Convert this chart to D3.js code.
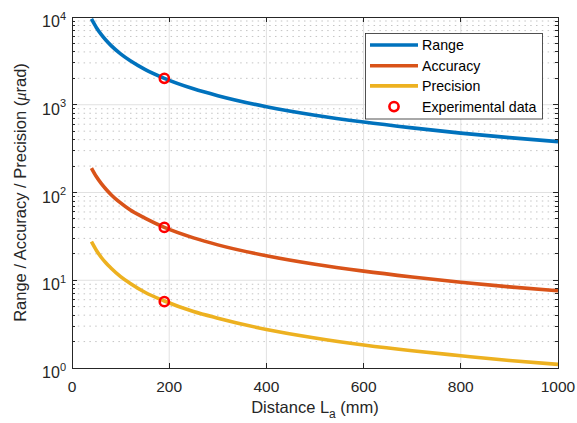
<!DOCTYPE html>
<html>
<head>
<meta charset="utf-8">
<script src="https://cdn.jsdelivr.net/npm/d3@7"></script>
<style>
  html, body { margin: 0; padding: 0; background: #fff; }
  svg { display: block; font-family: "Liberation Sans", Arial, Helvetica, sans-serif; }
</style>
</head>
<body>
<div id="chart"></div>
<script>
// Distance L_a (mm) at which each curve is sampled
const distance = [40, 50, 60, 70, 80, 100, 120, 150, 190, 250, 300, 400, 500, 600, 700, 800, 900, 1000];
// Angular quantities in µrad
const rangeVals     = [9500, 7600, 6330, 5430, 4750, 3800, 3170, 2530, 2000, 1520, 1270, 950, 760, 635, 545, 475, 422, 380];
const accuracyVals  = [190, 152, 127, 109, 95, 76, 63, 51, 40, 30.4, 25.3, 19, 15.2, 12.7, 10.9, 9.5, 8.4, 7.6];
const precisionVals = [27.5, 22, 18.3, 15.7, 13.8, 11, 9.2, 7.3, 5.8, 4.4, 3.7, 2.75, 2.2, 1.83, 1.57, 1.38, 1.22, 1.1];
// Measured points
const expDistance = [190, 190, 190];
const expValues   = [2000, 40, 5.7];

const seriesNames  = ["Range", "Accuracy", "Precision"];
const seriesColors = ["#0072BD", "#D95319", "#EDB120"];
const xTicks = [0, 200, 400, 600, 800, 1000];
const yExponents = [0, 1, 2, 3, 4];

const W = 577, H = 423;
const plot = { left: 72, right: 558, top: 17, bottom: 368 };
const axisColor = "#262626";

const svg = d3.select("#chart").append("svg").attr("width", W).attr("height", H);

const x = d3.scaleLinear().domain([0, 1000]).range([plot.left, plot.right]);
const y = d3.scaleLog().domain([1, 1e4]).range([plot.bottom, plot.top]);

const g = svg.append("g");

// minor grid (dotted) at 2..9 of every decade
const minorVals = [];
yExponents.slice(0, -1).forEach(e => { for (let k = 2; k <= 9; k++) minorVals.push(k * Math.pow(10, e)); });
g.selectAll(".minor").data(minorVals).enter().append("line")
  .attr("x1", plot.left).attr("x2", plot.right)
  .attr("y1", d => y(d)).attr("y2", d => y(d))
  .attr("stroke", "#c4c4c4").attr("stroke-width", 1).attr("stroke-dasharray", "1.5,4.3");

// major grid
g.selectAll(".gx").data(xTicks.slice(1, -1)).enter().append("line")
  .attr("x1", d => x(d)).attr("x2", d => x(d))
  .attr("y1", plot.top).attr("y2", plot.bottom)
  .attr("stroke", "#e1e1e1").attr("stroke-width", 1);
g.selectAll(".gy").data(yExponents.slice(1, -1)).enter().append("line")
  .attr("x1", plot.left).attr("x2", plot.right)
  .attr("y1", d => y(Math.pow(10, d))).attr("y2", d => y(Math.pow(10, d)))
  .attr("stroke", "#e1e1e1").attr("stroke-width", 1);

// curves
const line = d3.line().x(d => x(d[0])).y(d => y(d[1])).curve(d3.curveMonotoneX);
[rangeVals, accuracyVals, precisionVals].forEach((vals, i) => {
  g.append("path")
    .datum(distance.map((d, j) => [d, vals[j]]))
    .attr("d", line)
    .attr("fill", "none")
    .attr("stroke", seriesColors[i])
    .attr("stroke-width", 3.6)
    .attr("stroke-linejoin", "round");
});

// experimental markers
g.selectAll(".exp").data(expValues).enter().append("circle")
  .attr("cx", (d, i) => x(expDistance[i])).attr("cy", d => y(d))
  .attr("r", 4.6).attr("fill", "none").attr("stroke", "#FF0000").attr("stroke-width", 2.6);

// axes box and ticks (inward, on all four sides)
const ax = svg.append("g").attr("stroke", axisColor).attr("stroke-width", 1).attr("shape-rendering", "crispEdges");
ax.append("rect").attr("x", plot.left).attr("y", plot.top)
  .attr("width", plot.right - plot.left).attr("height", plot.bottom - plot.top).attr("fill", "none");
xTicks.forEach(t => {
  ax.append("line").attr("x1", x(t)).attr("x2", x(t)).attr("y1", plot.bottom).attr("y2", plot.bottom - 5);
  ax.append("line").attr("x1", x(t)).attr("x2", x(t)).attr("y1", plot.top).attr("y2", plot.top + 5);
});
yExponents.forEach(e => {
  const yy = y(Math.pow(10, e));
  ax.append("line").attr("x1", plot.left).attr("x2", plot.left + 5).attr("y1", yy).attr("y2", yy);
  ax.append("line").attr("x1", plot.right).attr("x2", plot.right - 5).attr("y1", yy).attr("y2", yy);
});
minorVals.forEach(v => {
  const yy = y(v);
  ax.append("line").attr("x1", plot.left).attr("x2", plot.left + 3).attr("y1", yy).attr("y2", yy);
  ax.append("line").attr("x1", plot.right).attr("x2", plot.right - 3).attr("y1", yy).attr("y2", yy);
});

// x tick labels
svg.selectAll(".xl").data(xTicks).enter().append("text")
  .attr("x", d => x(d)).attr("y", 392)
  .attr("text-anchor", "middle").attr("font-size", 15.5).attr("fill", axisColor)
  .text(d => d);

// y tick labels 10^n
yExponents.forEach(e => {
  const t = svg.append("text")
    .attr("x", 66).attr("y", y(Math.pow(10, e)) + 10)
    .attr("text-anchor", "end").attr("font-size", 16).attr("fill", axisColor);
  t.append("tspan").text("10");
  t.append("tspan").attr("font-size", 11).attr("dy", -7.5).text(e);
});

// axis labels
const xl = svg.append("text")
  .attr("x", (plot.left + plot.right) / 2).attr("y", 413)
  .attr("text-anchor", "middle").attr("font-size", 16.5).attr("fill", axisColor);
xl.append("tspan").text("Distance L");
xl.append("tspan").attr("font-size", 12).attr("dy", 5).text("a");
xl.append("tspan").attr("dy", -5).text(" (mm)");

const yl = svg.append("text")
  .attr("transform", `translate(26,${(plot.top + plot.bottom) / 2}) rotate(-90)`)
  .attr("text-anchor", "middle").attr("font-size", 16.5).attr("fill", axisColor);
yl.append("tspan").text("Range / Accuracy / Precision (");
yl.append("tspan").attr("font-family", "'Liberation Serif', 'DejaVu Serif', serif").attr("font-style", "italic").text("μ");
yl.append("tspan").text("rad)");

// legend
const lg = svg.append("g");
lg.append("rect").attr("x", 365.5).attr("y", 33.5).attr("width", 177).attr("height", 85.5)
  .attr("fill", "#fff").attr("stroke", axisColor).attr("stroke-width", 0.8);
const rowY = [45, 65.7, 85.9, 106.6];
seriesNames.forEach((n, i) => {
  lg.append("line").attr("x1", 370).attr("x2", 418).attr("y1", rowY[i]).attr("y2", rowY[i])
    .attr("stroke", seriesColors[i]).attr("stroke-width", 3.6);
  lg.append("text").attr("x", 422).attr("y", rowY[i] + 5).attr("font-size", 14.2).attr("fill", "#000").text(n);
});
lg.append("circle").attr("cx", 394).attr("cy", rowY[3]).attr("r", 4.6)
  .attr("fill", "none").attr("stroke", "#FF0000").attr("stroke-width", 2.6);
lg.append("text").attr("x", 422).attr("y", rowY[3] + 5).attr("font-size", 14.2).attr("fill", "#000").text("Experimental data");
</script>
</body>
</html>
